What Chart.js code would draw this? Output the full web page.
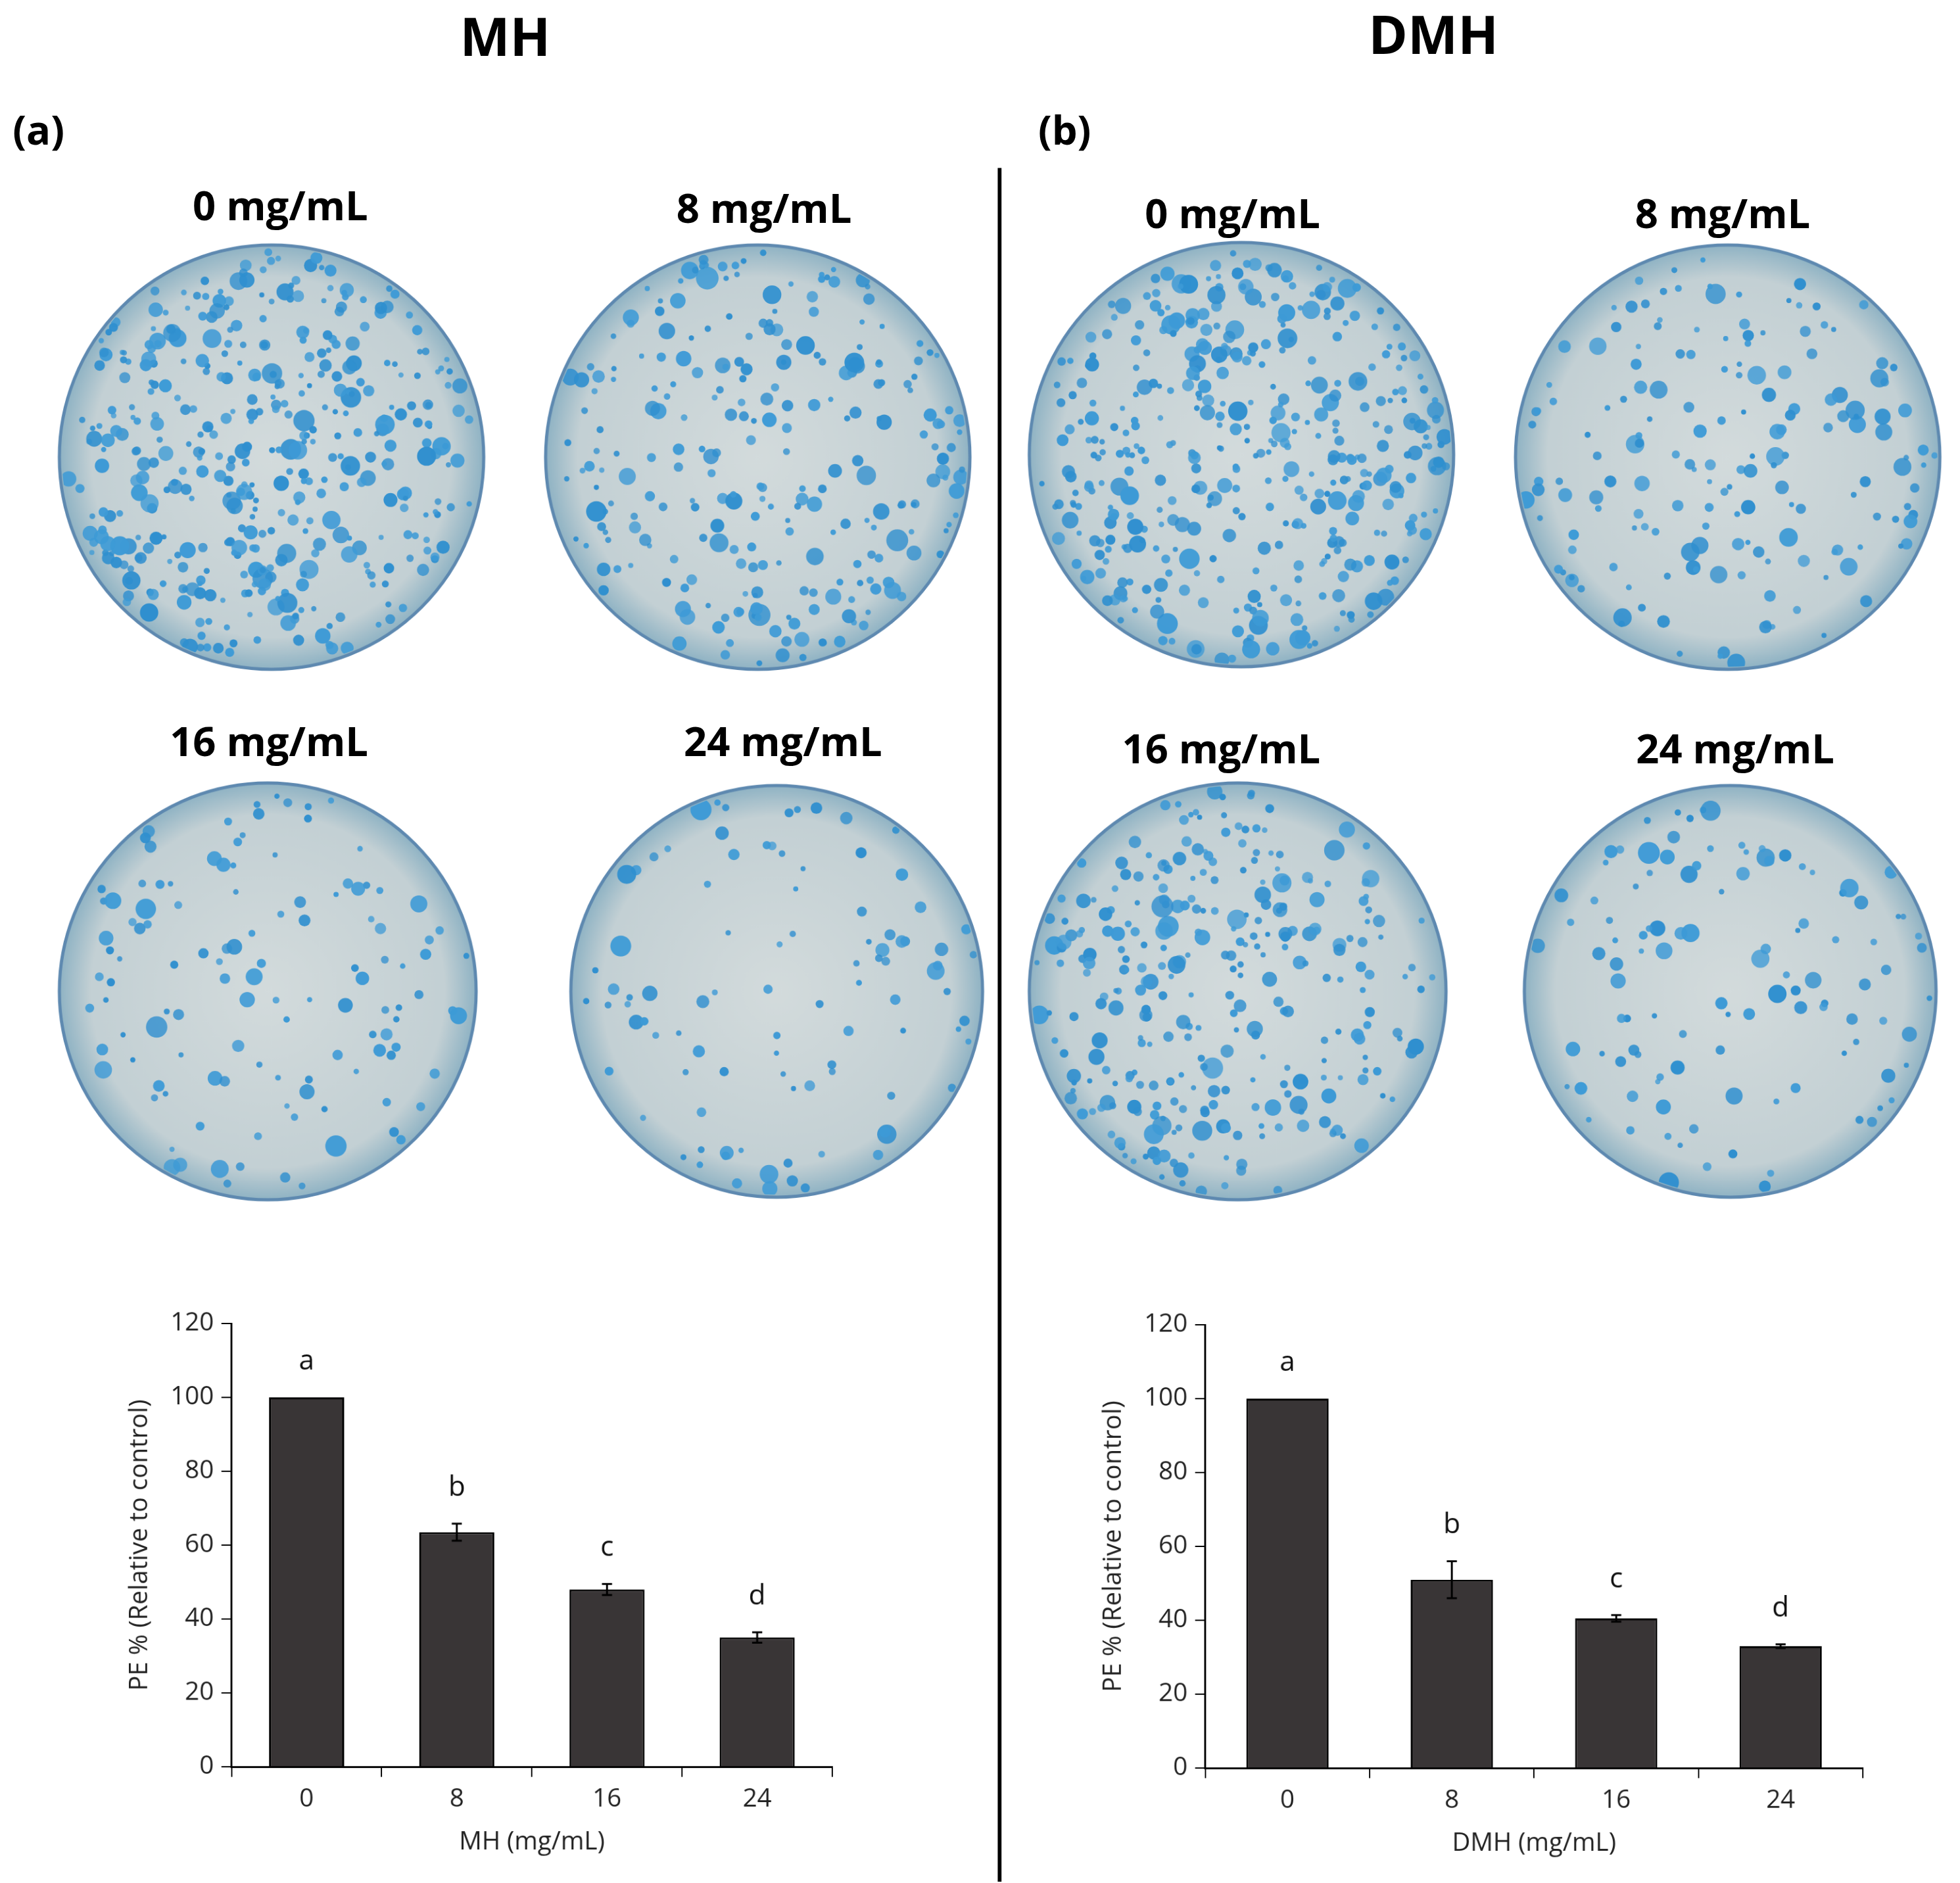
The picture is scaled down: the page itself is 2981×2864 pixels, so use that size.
<!DOCTYPE html>
<html>
<head>
<meta charset="utf-8">
<script src="https://cdn.jsdelivr.net/npm/chart.js@4"></script>
<style>
  html, body { margin: 0; padding: 0; background: #fff; width: 2981px; height: 2864px; overflow: hidden; }
  #wrap { position: absolute; left: 0; top: 0; width: 2981px; height: 2864px; overflow: hidden; }
  #stage { position: absolute; left: 0; top: 0; width: 1552px; height: 1491px; transform: scale(1.9208); transform-origin: 0 0; font-family: 'Open Sans', sans-serif; }
  .t { position: absolute; transform: translate(-50%, -50%); white-space: nowrap; font-weight: bold; color: #000; }
  .big { font-size: 42px; }
  .lbl { font-size: 32px; }
  .pan { font-size: 32px; transform: translate(0, -50%); }
  #divider { position: absolute; left: 790px; top: 133px; width: 3px; height: 1357px; background: #000; }
  canvas.dish { position: absolute; }
  .chart { position: absolute; }
</style>
</head>
<body>
<div id="wrap">
<div id="stage">
  <div class="t big" style="left:400px;top:28px">MH</div>
  <div class="t big" style="left:1135px;top:26px">DMH</div>
  <div class="t pan" style="left:10px;top:102px">(a)</div>
  <div class="t pan" style="left:822px;top:102px">(b)</div>
  <div id="divider"></div>

  <div class="t lbl" style="left:222px;top:162px">0 mg/mL</div>
  <div class="t lbl" style="left:605px;top:164px">8 mg/mL</div>
  <div class="t lbl" style="left:213px;top:586px">16 mg/mL</div>
  <div class="t lbl" style="left:620px;top:586px">24 mg/mL</div>
  <div class="t lbl" style="left:976px;top:168px">0 mg/mL</div>
  <div class="t lbl" style="left:1364px;top:168px">8 mg/mL</div>
  <div class="t lbl" style="left:967px;top:592px">16 mg/mL</div>
  <div class="t lbl" style="left:1374px;top:592px">24 mg/mL</div>

  <div class="chart" style="left:95px;top:1030px;width:580px;height:445px"><canvas id="chartMH"></canvas></div>
  <div class="chart" style="left:866px;top:1031px;width:625px;height:445px"><canvas id="chartDMH"></canvas></div>
</div>
</div>
<script>
'use strict';

const categories = ['0', '8', '16', '24'];
const mhValues = [100, 63.5, 48, 35];
const mhErrors = [0, 2.3, 1.5, 1.4];
const dmhValues = [100, 51, 40.5, 33];
const dmhErrors = [0, 5, 0.9, 0.5];
const letters = ['a', 'b', 'c', 'd'];
const yTicks = [0, 20, 40, 60, 80, 100, 120];

// petri dish pictures (decoration, not data): centre x, centre y, radius, colony count
const dishes = [
  [215, 362, 168, 420], [600, 362, 168, 260], [212, 785, 165, 120], [615, 785, 163, 95],
  [983, 360, 168, 420], [1368, 362, 168, 170], [980, 785, 165, 300], [1370, 785, 163, 110]
];

function drawDish(d, idx) {
  const [cx, cy, r, n] = d;
  const c = document.createElement('canvas');
  const s = 2;
  c.width = (2 * r + 8) * s; c.height = (2 * r + 8) * s;
  c.className = 'dish';
  c.style.left = (cx - r - 4) + 'px'; c.style.top = (cy - r - 4) + 'px';
  c.style.width = (2 * r + 8) + 'px'; c.style.height = (2 * r + 8) + 'px';
  document.getElementById('stage').appendChild(c);
  const ctx = c.getContext('2d');
  ctx.scale(s, s);
  const o = r + 4;
  const g = ctx.createRadialGradient(o, o, 0, o, o, r);
  g.addColorStop(0, '#d3dbdc');
  g.addColorStop(0.85, '#c3d0d4');
  g.addColorStop(1, '#8fb3c4');
  ctx.beginPath(); ctx.arc(o, o, r, 0, Math.PI * 2); ctx.fillStyle = g; ctx.fill();
  ctx.lineWidth = 2.5; ctx.strokeStyle = '#5e89b0'; ctx.stroke();
  let seed = 1234 + idx * 977;
  const rnd = () => { seed = (seed * 16807) % 2147483647; return seed / 2147483647; };
  ctx.save();
  ctx.beginPath(); ctx.arc(o, o, r - 2, 0, Math.PI * 2); ctx.clip();
  for (let i = 0; i < n; i++) {
    const a = rnd() * Math.PI * 2;
    const rr = Math.sqrt(rnd()) * (r - 4);
    const sz = 2 + rnd() * rnd() * 7;
    ctx.beginPath();
    ctx.arc(o + Math.cos(a) * rr, o + Math.sin(a) * rr, sz, 0, Math.PI * 2);
    ctx.fillStyle = rnd() < 0.5 ? '#2f8fcf' : '#3d9ad6';
    ctx.globalAlpha = 0.75 + rnd() * 0.25;
    ctx.fill();
  }
  ctx.restore();
}
dishes.forEach(drawDish);

const errorBarPlugin = {
  id: 'errorBars',
  afterDatasetsDraw(chart, args, opts) {
    const ctx = chart.ctx;
    const meta = chart.getDatasetMeta(0);
    const y = chart.scales.y;
    ctx.save();
    ctx.strokeStyle = '#000';
    ctx.lineWidth = 1.5;
    ctx.fillStyle = '#111';
    ctx.font = '22px "Open Sans", sans-serif';
    ctx.textAlign = 'center';
    meta.data.forEach((bar, i) => {
      const v = chart.data.datasets[0].data[i];
      const e = opts.errors[i];
      const yt = y.getPixelForValue(v + e);
      if (e > 0) {
        const yb = y.getPixelForValue(v - e);
        ctx.beginPath();
        ctx.moveTo(bar.x, yt); ctx.lineTo(bar.x, yb);
        ctx.moveTo(bar.x - 4, yt); ctx.lineTo(bar.x + 4, yt);
        ctx.moveTo(bar.x - 4, yb); ctx.lineTo(bar.x + 4, yb);
        ctx.stroke();
      }
      ctx.fillText(letters[i], bar.x, yt - 22);
    });
    ctx.restore();
  }
};

function makeChart(id, values, errors, title) {
  const tickFont = { family: "'Open Sans', sans-serif", size: 20 };
  new Chart(document.getElementById(id), {
    type: 'bar',
    data: {
      labels: categories,
      datasets: [{
        data: values,
        backgroundColor: '#393536',
        borderColor: '#000',
        borderWidth: 1.5,
        barPercentage: 0.5,
        categoryPercentage: 1
      }]
    },
    options: {
      responsive: true,
      maintainAspectRatio: false,
      animation: false,
      devicePixelRatio: 2,
      layout: { padding: { top: 12, right: 16 } },
      plugins: { legend: { display: false }, tooltip: { enabled: false }, errorBars: { errors: errors } },
      scales: {
        x: {
          grid: { display: true, drawOnChartArea: false, offset: true, color: '#000', tickLength: 8 },
          border: { color: '#000', width: 1.5 },
          ticks: { color: '#222', font: tickFont, padding: 6 },
          title: { display: true, text: title, color: '#222', font: tickFont, padding: { top: 4 } }
        },
        y: {
          min: 0, max: 120,
          afterBuildTicks: (s) => { s.ticks = yTicks.map(v => ({ value: v })); },
          grid: { display: true, drawOnChartArea: false, color: '#000', tickLength: 8 },
          border: { color: '#000', width: 1.5 },
          ticks: { color: '#222', font: tickFont, padding: 6 },
          title: { display: true, text: 'PE % (Relative to control)', color: '#222', font: tickFont, padding: { bottom: 6 } }
        }
      }
    },
    plugins: [errorBarPlugin]
  });
}

makeChart('chartMH', mhValues, mhErrors, 'MH (mg/mL)');
makeChart('chartDMH', dmhValues, dmhErrors, 'DMH (mg/mL)');
</script>
</body>
</html>
